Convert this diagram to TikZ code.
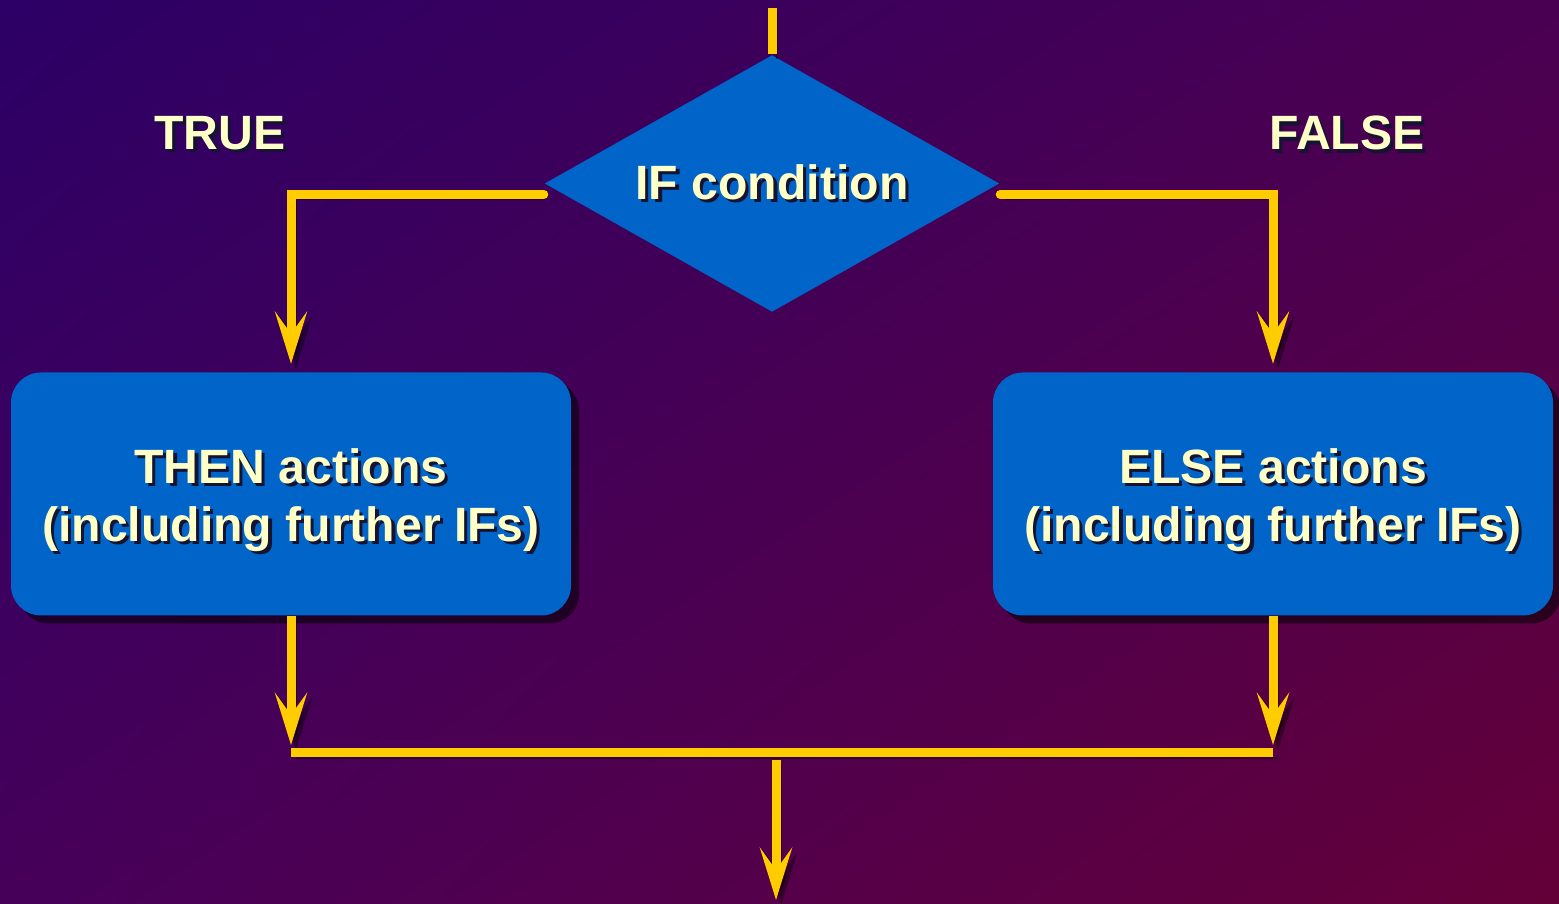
\documentclass[tikz,border=0pt]{standalone}
\usepackage{fontspec}
\setmainfont{Liberation Sans}
\usetikzlibrary{positioning,calc,arrows.meta,shapes.geometric,shadows,shadings}
\definecolor{bgnw}{HTML}{2C0066}
\definecolor{bgne}{HTML}{4A0052}
\definecolor{bgsw}{HTML}{46005A}
\definecolor{bgse}{HTML}{640038}
\definecolor{flowyellow}{HTML}{FFCC00}
\definecolor{boxblue}{HTML}{0064C8}
\definecolor{cream}{HTML}{FFFFC8}
\definecolor{textshade}{HTML}{141432}
\newcommand{\shadowed}[1]{\leavevmode\rlap{\kern0.9pt\raisebox{-0.9pt}{\textcolor{textshade}{#1}}}#1}
\newcommand{\topstrut}{\rule{0pt}{0.5cm}}

\begin{document}
\begin{tikzpicture}[
  every node/.style={font=\fontsize{13.7}{16.5}\selectfont\bfseries, text=cream},
  flow/.style={draw=flowyellow, line width=0.09cm, preaction={draw=black, opacity=0.4, transform canvas={shift={(0.05,-0.05)}}}},
  arr/.style={flow, -{Stealth[length=0.52cm,width=0.32cm,inset=0.22cm]}},
  action/.style={fill=boxblue, rounded corners=0.3cm, minimum width=5.6cm, minimum height=2.43cm, align=center, drop shadow={shadow xshift=0.08cm, shadow yshift=-0.08cm, fill=black, opacity=0.55}},
  decision/.style={diamond, fill=boxblue, aspect=1.77, minimum width=4.55cm, minimum height=2.57cm, inner sep=0pt}]
\shade[upper left=bgnw, upper right=bgne, lower left=bgsw, lower right=bgse] (0,0) rectangle (15.59,9.04);
\useasboundingbox (0,0) rectangle (15.59,9.04);
\coordinate (entry) at (7.72,8.96);
\coordinate (merge) at (7.76,1.51);
\coordinate (exit) at (7.76,0.04);
\node[decision] (cond) at (7.72,7.205) {\shadowed{IF condition}};
\node (true) at (2.20,7.69) {\shadowed{TRUE}};
\node (false) at (13.47,7.69) {\shadowed{FALSE}};
\node[action] (then) at (2.91,4.1) {\topstrut\shadowed{THEN actions}\\\shadowed{(including further IFs)}};
\node[action] (else) at (12.73,4.1) {\topstrut\shadowed{ELSE actions}\\\shadowed{(including further IFs)}};
% flow lines
\draw[flow] (entry) -- (cond.north);
\draw[arr,line cap=round] ([yshift=-0.11cm]cond.west) -| ([yshift=0.08cm]then.north);
\draw[arr,line cap=round] ([yshift=-0.11cm]cond.east) -| ([yshift=0.08cm]else.north);
\draw[arr] (then.south) -- ([yshift=0.08cm]then.south |- merge);
\draw[arr] (else.south) -- ([yshift=0.08cm]else.south |- merge);
\draw[flow] (then.south |- merge) -- (else.south |- merge);
\draw[arr] ([yshift=-0.07cm]merge) -- (exit);
\end{tikzpicture}
\end{document}
